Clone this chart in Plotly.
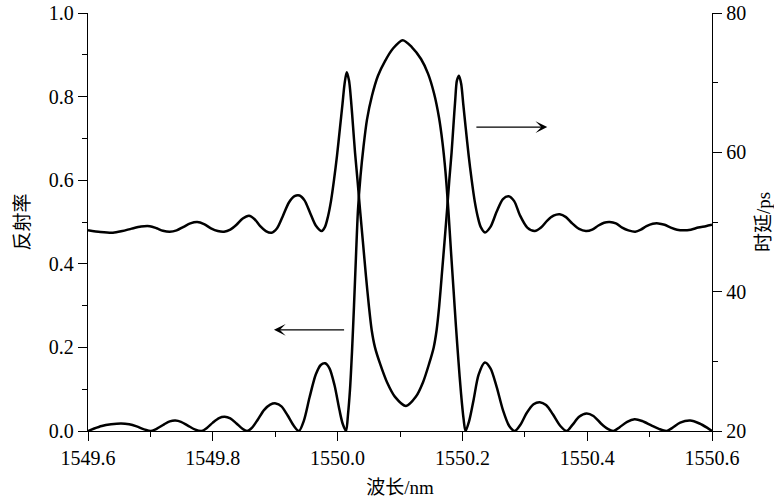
import plotly.graph_objects as go

# Wavelength (nm) and reflectivity of the grating
wl_r = [1549.600, 1549.610, 1549.622, 1549.637, 1549.653, 1549.666, 1549.678, 1549.690, 1549.701,
        1549.711, 1549.722, 1549.731, 1549.740, 1549.749, 1549.760, 1549.771, 1549.782,
        1549.791, 1549.800, 1549.810, 1549.819, 1549.828, 1549.838, 1549.847, 1549.855,
        1549.863, 1549.872, 1549.882, 1549.892, 1549.901, 1549.910, 1549.920, 1549.930, 1549.938,
        1549.946, 1549.955, 1549.965, 1549.973, 1549.980, 1549.987, 1549.995, 1550.003, 1550.008,
        1550.0135, 1550.0167, 1550.0199, 1550.0231, 1550.0263, 1550.0295, 1550.0327,
        1550.0367, 1550.0415, 1550.0471, 1550.0551, 1550.0647, 1550.0760, 1550.0888,
        1550.1043,
        1550.1192, 1550.1337, 1550.1449, 1550.1545, 1550.1625, 1550.1681, 1550.1729,
        1550.1774, 1550.1817, 1550.1857, 1550.1897, 1550.1938, 1550.1978, 1550.2018,
        1550.2050,
        1550.211, 1550.218, 1550.226, 1550.236, 1550.245, 1550.255, 1550.265, 1550.275, 1550.284,
        1550.293, 1550.303, 1550.314, 1550.324, 1550.334, 1550.345, 1550.357, 1550.367,
        1550.376, 1550.387, 1550.399, 1550.410, 1550.422, 1550.433, 1550.442,
        1550.452, 1550.464, 1550.476, 1550.488, 1550.502, 1550.515, 1550.527,
        1550.536, 1550.549, 1550.565, 1550.580, 1550.592, 1550.600]
reflectivity = [0.000, 0.006, 0.012, 0.016, 0.018, 0.016, 0.011, 0.004, 0.000,
                0.006, 0.016, 0.023, 0.025, 0.022, 0.013, 0.004, 0.000,
                0.008, 0.020, 0.031, 0.034, 0.030, 0.018, 0.006, 0.000,
                0.008, 0.027, 0.050, 0.063, 0.066, 0.059, 0.037, 0.012, 0.000,
                0.025, 0.080, 0.135, 0.158, 0.162, 0.150, 0.110, 0.050, 0.018,
                0.000, 0.040, 0.100, 0.190, 0.300, 0.420, 0.530,
                0.610, 0.680, 0.745, 0.802, 0.850, 0.885, 0.915,
                0.935,
                0.918, 0.890, 0.855, 0.808, 0.750, 0.690, 0.620,
                0.530, 0.430, 0.340, 0.250, 0.165, 0.090, 0.030,
                0.000,
                0.025, 0.075, 0.135, 0.164, 0.150, 0.105, 0.050, 0.012, 0.000,
                0.015, 0.043, 0.064, 0.069, 0.062, 0.040, 0.012, 0.000,
                0.014, 0.034, 0.042, 0.036, 0.018, 0.005, 0.000,
                0.009, 0.022, 0.028, 0.024, 0.014, 0.005, 0.000,
                0.007, 0.020, 0.025, 0.018, 0.008, 0.000]

# Wavelength (nm) and group delay (ps)
wl_t = [1549.600, 1549.620, 1549.640, 1549.655, 1549.670, 1549.685, 1549.699,
        1549.710, 1549.720, 1549.731, 1549.742, 1549.753, 1549.764, 1549.775,
        1549.786, 1549.797, 1549.808, 1549.818, 1549.828, 1549.838, 1549.848, 1549.858,
        1549.867, 1549.876, 1549.885, 1549.894, 1549.903, 1549.912, 1549.922, 1549.931, 1549.939,
        1549.947, 1549.956, 1549.965,
        1549.9745, 1549.9798, 1549.9846, 1549.9894, 1549.9942, 1549.9990, 1550.0038,
        1550.0079, 1550.0111, 1550.0146, 1550.0183, 1550.0215, 1550.0247, 1550.0279,
        1550.0319, 1550.0359, 1550.0407, 1550.0455, 1550.0503, 1550.0546, 1550.0599,
        1550.0679, 1550.0792, 1550.0920, 1550.1096,
        1550.1253, 1550.1369, 1550.1468, 1550.1540, 1550.1587, 1550.1627, 1550.1668,
        1550.1712, 1550.1755, 1550.1790, 1550.1827, 1550.1856, 1550.1885, 1550.1912,
        1550.1946, 1550.1981, 1550.2013, 1550.2053, 1550.2101, 1550.2149, 1550.2197,
        1550.2245, 1550.2293, 1550.2362,
        1550.245, 1550.255, 1550.265, 1550.274, 1550.283, 1550.292, 1550.304, 1550.316,
        1550.326, 1550.336, 1550.346, 1550.356, 1550.366, 1550.376, 1550.387, 1550.398,
        1550.408, 1550.418, 1550.427, 1550.436, 1550.446, 1550.456, 1550.466, 1550.477,
        1550.486, 1550.495, 1550.505, 1550.514, 1550.524, 1550.534, 1550.544, 1550.554,
        1550.566, 1550.578, 1550.590, 1550.600]
delay = [48.8, 48.55, 48.45, 48.7, 49.05, 49.35, 49.4,
         49.1, 48.75, 48.6, 48.8, 49.3, 49.8, 50.0,
         49.7, 49.1, 48.7, 48.6, 48.9, 49.6, 50.5, 50.9,
         50.4, 49.4, 48.7, 48.45, 49.1, 50.8, 52.8, 53.7, 53.8,
         53.1, 51.3, 49.5,
         48.7, 49.3, 50.8, 53.0, 56.0, 59.5, 63.5,
         67.0, 69.8, 71.5, 70.3, 67.5, 63.8, 60.0,
         56.0, 51.8, 47.0, 42.2, 37.8, 34.5, 32.0,
         29.7, 27.0, 24.9, 23.6,
         24.9, 27.0, 29.7, 32.0, 34.5, 37.8, 42.2,
         47.0, 51.8, 56.0, 60.0, 63.8, 67.5, 70.3,
         71.0, 69.8, 67.0, 63.5, 59.5, 56.0, 53.0,
         50.8, 49.3, 48.5,
         49.3, 51.5, 53.3, 53.7, 53.0, 51.0, 49.2, 48.7,
         49.2, 50.2, 50.9, 51.1, 50.7, 49.8, 49.0, 48.7,
         48.9, 49.5, 49.9, 50.0, 49.8, 49.2, 48.8, 48.6,
         48.9, 49.4, 49.75, 49.8, 49.6, 49.2, 48.9, 48.8,
         48.9, 49.2, 49.4, 49.6]

x_ticks = [1549.6, 1549.8, 1550.0, 1550.2, 1550.4, 1550.6]
r_ticks = [0.0, 0.2, 0.4, 0.6, 0.8, 1.0]
t_ticks = [20, 40, 60, 80]

SERIF = "Liberation Serif"
TITLE_FONT = "Liberation Serif, Noto Sans CJK SC"
line_style = dict(color="black", width=2.5, shape="spline", smoothing=0.8)

fig = go.Figure()
fig.add_trace(go.Scatter(x=wl_r, y=reflectivity, mode="lines",
                         line=line_style, yaxis="y", showlegend=False))
fig.add_trace(go.Scatter(x=wl_t, y=delay, mode="lines",
                         line=line_style, yaxis="y2", showlegend=False))

axis_common = dict(showline=True, linecolor="black", linewidth=1.3,
                   ticks="outside", ticklen=9, tickwidth=1.3, tickcolor="black",
                   showgrid=False, zeroline=False, automargin=False,
                   tickfont=dict(family=SERIF, size=20, color="black"))
minor_common = dict(ticks="outside", ticklen=5, tickcolor="black", tickwidth=1.3)
title_font = dict(family=TITLE_FONT, size=19, color="black")

fig.update_layout(
    width=774, height=501,
    margin=dict(l=88, r=62, t=13, b=70),
    paper_bgcolor="white", plot_bgcolor="white",
    xaxis=dict(range=[1549.6, 1550.6], tickvals=x_ticks,
               ticktext=[f"{v:.1f}" for v in x_ticks],
               minor=dict(dtick=0.1, tick0=1549.6, **minor_common),
               title=dict(text="波长/nm", font=title_font, standoff=12),
               **axis_common),
    yaxis=dict(range=[0, 1], tickvals=r_ticks,
               ticktext=[f"{v:.1f}" for v in r_ticks],
               minor=dict(dtick=0.1, tick0=0, **minor_common),
               title=dict(text="反射率", font=title_font, standoff=14),
               **axis_common),
    yaxis2=dict(range=[20, 80], tickvals=t_ticks, overlaying="y", side="right",
                minor=dict(dtick=10, tick0=20, **minor_common),
                title=dict(text="时延/ps", font=title_font, standoff=20),
                **axis_common),
)

# Arrows pointing each curve to its own axis
fig.add_annotation(x=1550.336, y=0.727, ax=1550.220, ay=0.727,
                   xref="x", yref="y", axref="x", ayref="y",
                   text="", showarrow=True, arrowhead=3, arrowsize=1.4,
                   arrowwidth=1.4, arrowcolor="black")
fig.add_annotation(x=1549.898, y=0.242, ax=1550.0128, ay=0.242,
                   xref="x", yref="y", axref="x", ayref="y",
                   text="", showarrow=True, arrowhead=3, arrowsize=1.4,
                   arrowwidth=1.4, arrowcolor="black")

fig.write_html("out.html")
